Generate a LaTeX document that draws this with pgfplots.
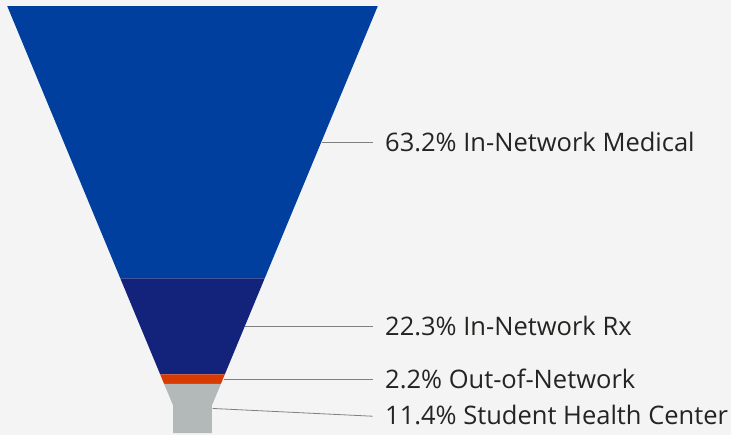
\documentclass[border=0pt]{standalone}
\usepackage{pgfplots}
\pgfplotsset{compat=1.18}
\usepackage{fontspec}
\setmainfont{Open Sans}
\definecolor{bg}{HTML}{F4F4F4}
\definecolor{cblue}{HTML}{003F9E}
\definecolor{cnavy}{HTML}{13227A}
\definecolor{corange}{HTML}{D83B01}
\definecolor{cgray}{HTML}{B3B8B8}
\definecolor{ctext}{HTML}{252423}
\definecolor{cline}{HTML}{808080}
\begin{document}
\begin{tikzpicture}
\begin{axis}[
  hide axis, scale only axis, width=731bp, height=435bp,
  xmin=-192.5, xmax=538.5, ymin=-1.3924, ymax=99.56, y dir=reverse,
  clip=false]
\fill[bg] (rel axis cs:0,0) rectangle (rel axis cs:1,1);
% segments: y = cumulative share (%), x = half width
\addplot[fill=cblue, draw=none] coordinates {(-185.3,0) (185.3,0) (72.2,63.2) (-72.2,63.2)};
\addplot[fill=cnavy, draw=none] coordinates {(-72.2,63.2) (72.2,63.2) (32.3,85.5) (-32.3,85.5)};
\addplot[fill=corange, draw=none] coordinates {(-32.3,85.5) (32.3,85.5) (28.4,87.7) (-28.4,87.7)};
\addplot[fill=cgray, draw=none] coordinates {(-28.4,87.7) (28.4,87.7) (19.3,92.77) (19.3,99.1) (-19.3,99.1) (-19.3,92.77)};
% leader lines
\addplot[cline, line width=0.8bp] coordinates {(129.0,31.6) (180,31.6)};
\addplot[cline, line width=0.8bp] coordinates {(52.3,74.35) (180,74.35)};
\addplot[cline, line width=0.8bp] coordinates {(31.5,86.6) (180,86.6)};
\addplot[cline, line width=0.8bp] coordinates {(20.2,93.4) (180,95.2)};
% labels
\begin{scope}[every node/.style={anchor=base west, inner sep=0pt, yshift=-9.2bp, text=ctext, font=\fontsize{25.5bp}{30bp}\selectfont}]
\node at (axis cs:192.5,31.6) {63.2\% In-Network Medical};
\node at (axis cs:192.5,74.35) {22.3\% In-Network Rx};
\node at (axis cs:192.5,86.6) {2.2\% Out-of-Network};
\node at (axis cs:192.5,94.92) {11.4\% Student Health Center};
\end{scope}
\end{axis}
\end{tikzpicture}
\end{document}
